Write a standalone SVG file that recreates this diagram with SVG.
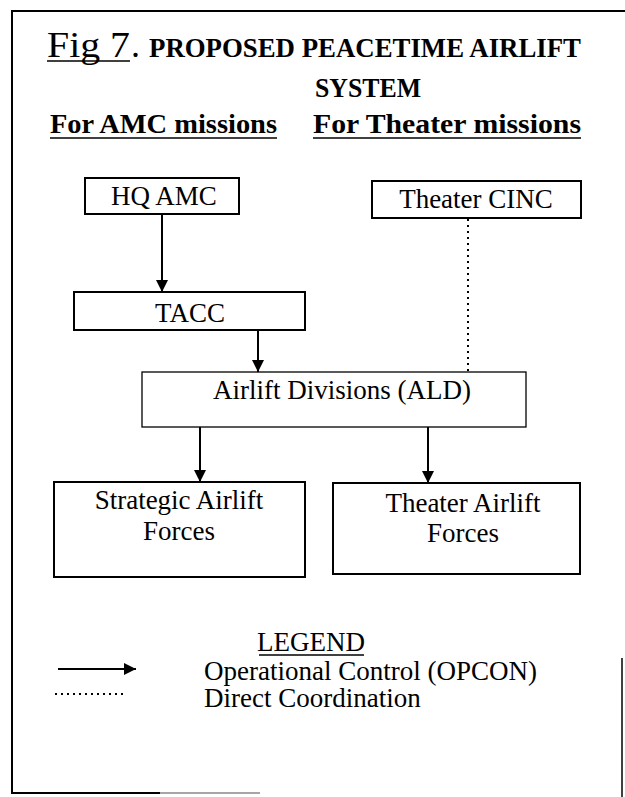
<svg xmlns="http://www.w3.org/2000/svg" width="625" height="797" viewBox="0 0 625 797">
  <defs>
    <marker id="arrow" markerUnits="userSpaceOnUse" markerWidth="12" markerHeight="12" refX="12" refY="6" orient="auto">
      <path d="M0,0 L12,6 L0,12 z" fill="#000"/>
    </marker>
    <style>
      .t { font-family: "Liberation Serif", "Times New Roman", serif; fill: #000; }
      .b { font-weight: bold; font-size: 28px; }
      .r { font-size: 27px; }
      .box { fill: #fff; stroke: #000; stroke-width: 2; }
      .thin { stroke-width: 1.3; }
      .solid { stroke: #000; stroke-width: 2; fill: none; }
      .dot { stroke: #000; stroke-width: 2; stroke-dasharray: 2 4; fill: none; }
      .ul { stroke: #000; stroke-width: 1.6; }
    </style>
  </defs>
  <rect width="625" height="797" fill="#fff"/>

  <g id="frame" fill="none" stroke="#000" stroke-width="2">
    <line x1="11" y1="11" x2="625" y2="11"/>
    <line x1="12" y1="10" x2="12" y2="794"/>
    <line x1="11" y1="793" x2="160" y2="793"/>
    <line x1="160" y1="793" x2="260" y2="793" stroke="#888" stroke-width="1.5"/>
    <line x1="622" y1="658" x2="622" y2="797" stroke-width="1.5"/>
  </g>

  <g id="title">
    <text class="t" x="47" y="57" font-size="36" textLength="83" lengthAdjust="spacingAndGlyphs">Fig 7</text>
    <line class="ul" x1="47" y1="61" x2="130" y2="61"/>
    <text class="t" x="131" y="57" font-size="36">.</text>
    <text class="t" x="149" y="57" font-size="27" font-weight="bold" textLength="432" lengthAdjust="spacingAndGlyphs">PROPOSED PEACETIME AIRLIFT</text>
    <text class="t b" x="368" y="97" text-anchor="middle" textLength="106" lengthAdjust="spacingAndGlyphs">SYSTEM</text>
    <text class="t b" x="50" y="133" textLength="227" lengthAdjust="spacingAndGlyphs">For AMC missions</text>
    <line class="ul" x1="50" y1="138" x2="277" y2="138"/>
    <text class="t b" x="313" y="133" textLength="268" lengthAdjust="spacingAndGlyphs">For Theater missions</text>
    <line class="ul" x1="313" y1="138" x2="581" y2="138"/>
  </g>

  <g id="connectors">
    <line class="solid" x1="162" y1="214" x2="162" y2="292" marker-end="url(#arrow)"/>
    <line class="solid" x1="258" y1="330" x2="258" y2="372" marker-end="url(#arrow)"/>
    <line class="solid" x1="200" y1="427" x2="200" y2="482" marker-end="url(#arrow)"/>
    <line class="solid" x1="428" y1="427" x2="428" y2="483" marker-end="url(#arrow)"/>
    <line class="dot" x1="468" y1="219" x2="468" y2="372"/>
  </g>

  <g id="hq-amc">
    <rect class="box" x="85" y="178" width="154" height="36"/>
    <text class="t r" x="164" y="205" text-anchor="middle">HQ AMC</text>
  </g>

  <g id="theater-cinc">
    <rect class="box" x="372" y="181" width="209" height="37"/>
    <text class="t r" x="476" y="208" text-anchor="middle">Theater CINC</text>
  </g>

  <g id="tacc">
    <rect class="box" x="74" y="292" width="231" height="38"/>
    <text class="t r" x="190" y="322" text-anchor="middle">TACC</text>
  </g>

  <g id="ald">
    <rect class="box thin" x="142" y="372" width="384" height="55"/>
    <text class="t r" x="342" y="399" text-anchor="middle">Airlift Divisions (ALD)</text>
  </g>

  <g id="strategic">
    <rect class="box" x="54" y="482" width="251" height="95" stroke-width="2.4"/>
    <text class="t r" x="179" y="509" text-anchor="middle">Strategic Airlift</text>
    <text class="t r" x="179" y="540" text-anchor="middle">Forces</text>
  </g>

  <g id="theater-airlift">
    <rect class="box" x="333" y="483" width="247" height="91" stroke-width="2.4"/>
    <text class="t r" x="463" y="512" text-anchor="middle">Theater Airlift</text>
    <text class="t r" x="463" y="542" text-anchor="middle">Forces</text>
  </g>

  <g id="legend">
    <text class="t r" x="311" y="651" text-anchor="middle">LEGEND</text>
    <line class="ul" x1="259" y1="655" x2="364" y2="655"/>
    <line class="solid" x1="58" y1="669" x2="136" y2="669" marker-end="url(#arrow)"/>
    <text class="t r" x="204" y="680">Operational Control (OPCON)</text>
    <line class="dot" x1="55" y1="694" x2="124" y2="694" stroke-width="1.6"/>
    <text class="t r" x="204" y="707">Direct Coordination</text>
  </g>
</svg>
